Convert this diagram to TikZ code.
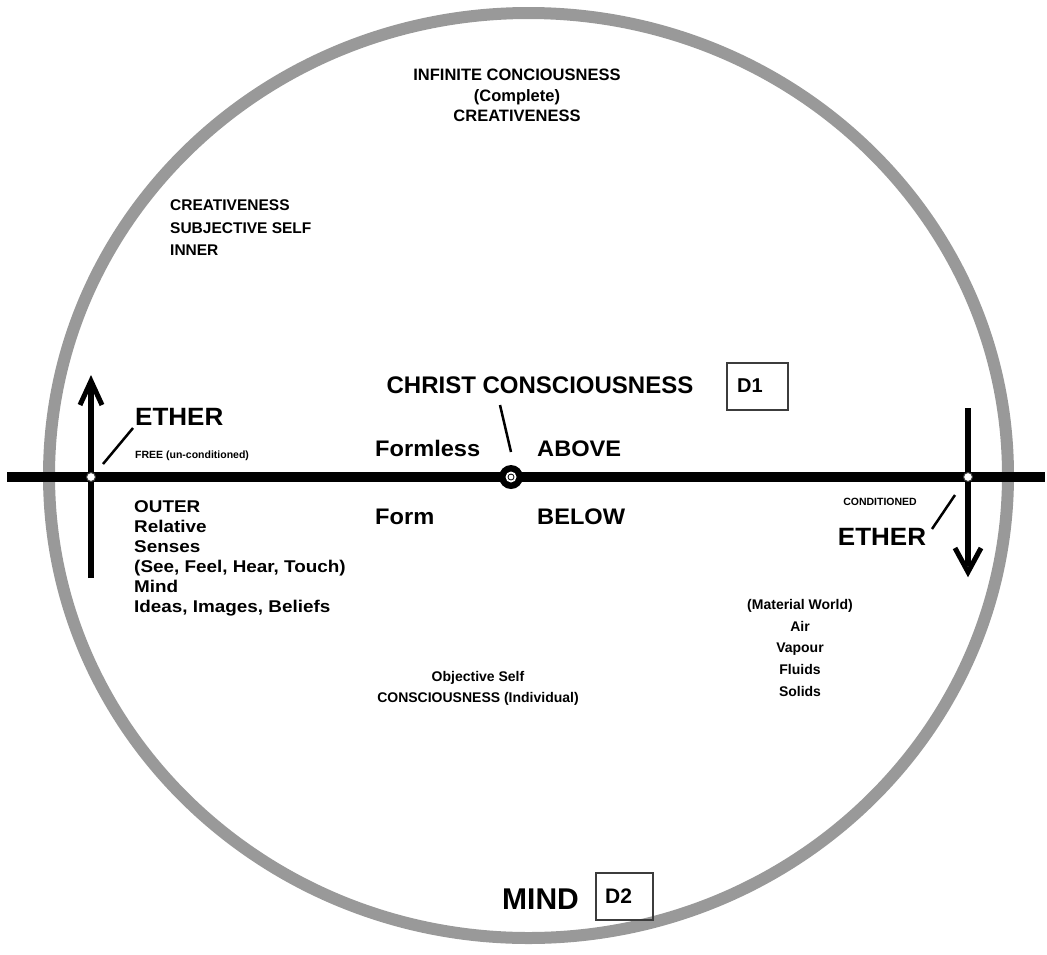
\documentclass[tikz,border=0pt]{standalone}
\usepackage{fontspec}
\setmainfont{Liberation Sans}
\usetikzlibrary{calc}
\newcommand\fsz[2]{\fontsize{#1}{#2}\selectfont\bfseries}
\definecolor{ringgray}{RGB}{153,153,153}
\definecolor{boxgray}{RGB}{60,60,60}
\begin{document}
\begin{tikzpicture}[x=1pt,y=-1pt,
  ring/.style={draw=ringgray, line width=12pt},
  axis/.style={line width=10pt},
  stem/.style={line width=6pt},
  barb/.style={line width=5pt, line join=miter},
  tick/.style={line width=2.5pt},
  dot/.style={circle, fill=white, draw=boxgray, line width=1pt, inner sep=0pt, minimum size=9pt},
  lbl/.style={inner sep=0pt},
  dbox/.style={draw=boxgray, line width=1.2pt}]
\useasboundingbox (0,0) rectangle (1047,954);
% outer ring
\draw[ring] (528.5,475.5) ellipse [x radius=479.5pt, y radius=462.5pt];
% horizontal axis
\coordinate (axL) at (7,477);
\coordinate (axR) at (1045,477);
\draw[axis] (axL) -- (axR);
% left up arrow
\coordinate (lb) at (91,578);
\coordinate (lt) at (91,381);
\draw[stem] (lb) -- ($(lt)+(0,6)$);
\draw[barb] ($(lt)+(-11,24)$) -- (lt) -- ($(lt)+(11,24)$);
% right down arrow
\coordinate (rt) at (968,408);
\coordinate (rb) at (968,572);
\draw[stem] (rt) -- ($(rb)+(0,-6)$);
\draw[barb] ($(rb)+(-13,-24)$) -- (rb) -- ($(rb)+(13,-24)$);
% junction dots
\node[dot] (jl) at (91,477) {};
\node[dot] (jr) at (968,477) {};
% centre point
\node[circle, fill=black, inner sep=0pt, minimum size=24pt] (cc) at (511,477) {};
\node[circle, fill=white, inner sep=0pt, minimum size=11pt] (cw) at (cc) {};
\node[circle, draw=black, line width=0.8pt, inner sep=0pt, minimum size=6pt] (ci) at (cc) {};
% pointer ticks
\coordinate (t1a) at (103,464); \coordinate (t1b) at (133,428);
\draw[tick] (t1a) -- (t1b);
\coordinate (t2a) at (932,529); \coordinate (t2b) at (955,495);
\draw[tick] (t2a) -- (t2b);
\coordinate (t3a) at (500,405); \coordinate (t3b) at (511,452);
\draw[tick] (t3a) -- (t3b);
% texts
\node[lbl, anchor=north, align=center, font=\fsz{16.5}{20.5}] (inf) at (517,69)
  {INFINITE CONCIOUSNESS\\(Complete)\\CREATIVENESS};
\node[lbl, anchor=north west, align=left, font=\fsz{15.5}{22.5}] (cre) at (170,199.5)
  {CREATIVENESS\\SUBJECTIVE SELF\\INNER};
\node[lbl, anchor=base, font=\fsz{24}{28}] (chr) at (540,393.6) {CHRIST CONSCIOUSNESS};
\draw[dbox] (727,363) rectangle (788,410);
\node[lbl, anchor=base west, font=\fsz{20}{24}] (d1) at (737,392.7) {D1};
\node[lbl, anchor=base west, font=\fsz{25}{30}, xscale=1.04] (ethl) at (135,425) {ETHER};
\node[lbl, anchor=base west, font=\fsz{10.5}{12}] (free) at (135,458.8) {FREE (un-conditioned)};
\node[lbl, anchor=base west, font=\fsz{22.5}{26}, xscale=1.05] (fl) at (375,456.5) {Formless};
\node[lbl, anchor=base west, font=\fsz{22.5}{26}, xscale=1.05] (ab) at (537,456.5) {ABOVE};
\node[lbl, anchor=base west, font=\fsz{22.5}{26}, xscale=1.05] (fm) at (375,524.5) {Form};
\node[lbl, anchor=base west, font=\fsz{22.5}{26}, xscale=1.05] (be) at (537,524.5) {BELOW};
\node[lbl, anchor=north west, align=left, font=\fsz{17}{20}, xscale=1.11] (out) at (134,500.9)
  {OUTER\\Relative\\Senses\\(See, Feel, Hear, Touch)\\Mind\\Ideas, Images, Beliefs};
\node[lbl, anchor=base, font=\fsz{10.5}{12}] (cond) at (880,505.8) {CONDITIONED};
\node[lbl, anchor=base, font=\fsz{25}{30}, xscale=1.04] (ethr) at (882,545) {ETHER};
\node[lbl, anchor=north, align=center, font=\fsz{14}{21.7}] (mat) at (800,599)
  {(Material World)\\Air\\Vapour\\Fluids\\Solids};
\node[lbl, anchor=north, align=center, font=\fsz{14}{21}] (obj) at (478,671)
  {Objective Self\\CONSCIOUSNESS (Individual)};
\node[lbl, anchor=base west, font=\fsz{30}{36}] (mind) at (502,909) {MIND};
\draw[dbox] (596,873) rectangle (653,920);
\node[lbl, anchor=base west, font=\fsz{21}{25}] (d2) at (605,903) {D2};
\end{tikzpicture}
\end{document}
